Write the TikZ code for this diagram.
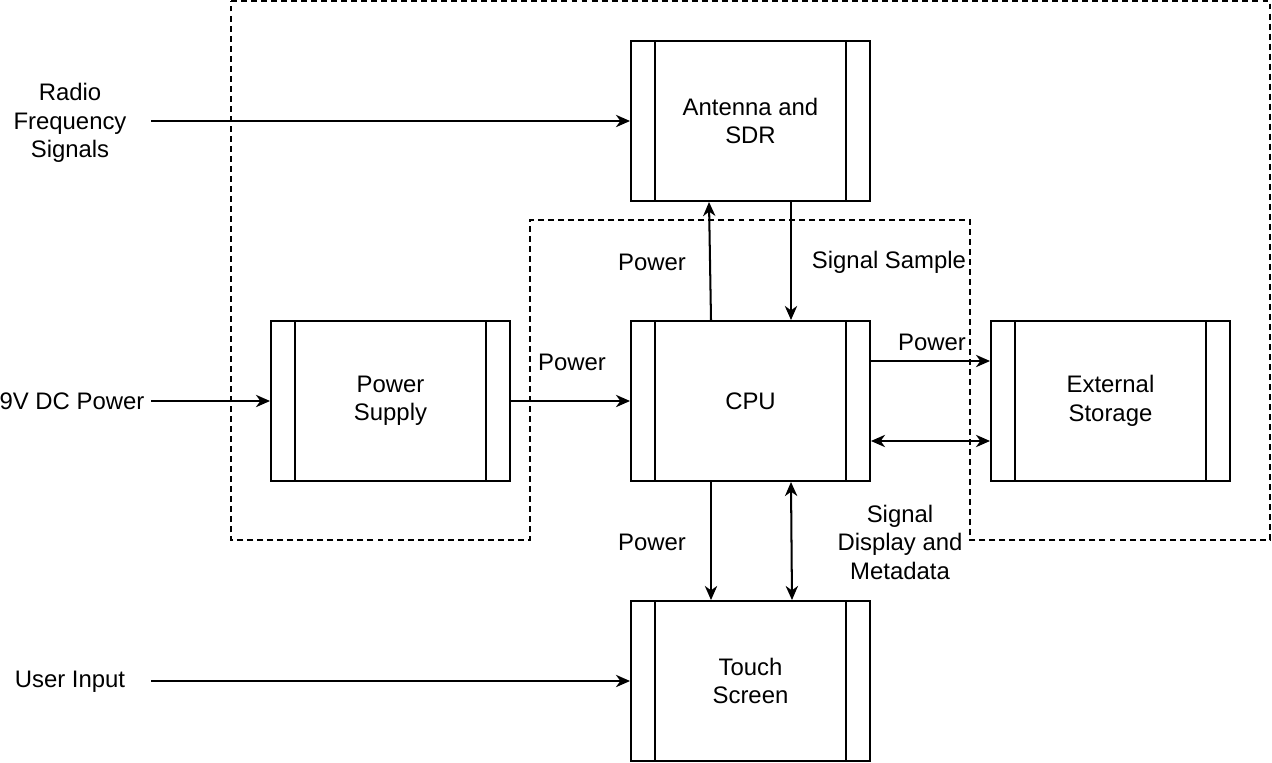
\documentclass[tikz,border=0pt]{standalone}
\usepackage{fontspec}
\setmainfont{Liberation Sans}
\usetikzlibrary{arrows.meta,positioning}

\begin{document}
\begin{tikzpicture}[x=0.02cm,y=-0.02cm,
	line width=1.15pt,
	>={Stealth[length=8pt,width=7pt,inset=2.5pt]},
	every node/.style={font=\fontsize{13.6}{16.2}\selectfont},
	block/.style={draw,rectangle,minimum width=4.78cm,minimum height=3.2cm,
		align=center,inner sep=0pt,
		path picture={\draw ([xshift=0.48cm]path picture bounding box.north west) -- ([xshift=0.48cm]path picture bounding box.south west);
			\draw ([xshift=-0.48cm]path picture bounding box.north east) -- ([xshift=-0.48cm]path picture bounding box.south east);}},
	lbl/.style={align=center,inner sep=0pt},
	border/.style={dashed,dash pattern=on 3.4pt off 2.3pt,line width=1pt}]
	\useasboundingbox (0,0) rectangle (1272,762);
	% dashed enclosure
	\draw[border] (231,1) -- (1270,1) -- (1270,540) -- (970,540) -- (970,220)
		-- (530,220) -- (530,540) -- (231,540) -- cycle;
	%% the blocks
	\node[block] (ant) at (750.5,121) {Antenna and\\SDR};
	\node[block] (psu) at (390.5,401) {Power\\Supply};
	\node[block] (cpu) at (750.5,401) {CPU};
	\node[block] (ext) at (1110.5,401) {External\\Storage};
	\node[block] (touch) at (750.5,681) {Touch\\Screen};
	%% the inputs
	\node[lbl] (rf) at (70,123) {Radio\\Frequency\\Signals};
	\node[lbl] (dc) at (72,401) {9V DC Power};
	\node[lbl] (user) at (70,682) {User Input};
	\coordinate (rfin) at (151,121);
	\coordinate (dcin) at (151,401);
	\coordinate (userin) at (151,681);
	\draw[->] (rfin) -- (ant.west);
	\draw[->] (dcin) -- (psu.west);
	\draw[->] (userin) -- (touch.west);
	%% the links
	\draw[->] (psu.east) -- (cpu.west);
	\draw[->] ([xshift=-0.79cm]cpu.north) -- ([xshift=-0.83cm]ant.south);
	\draw[->] ([xshift=0.81cm]ant.south) -- ([xshift=0.81cm]cpu.north);
	\draw[->] ([yshift=0.8cm]cpu.east) -- ([yshift=0.8cm]ext.west);
	\draw[<->] ([yshift=-0.8cm]cpu.east) -- ([yshift=-0.8cm]ext.west);
	\draw[->] ([xshift=-0.79cm]cpu.south) -- ([xshift=-0.79cm]touch.north);
	\draw[<->] ([xshift=0.81cm]cpu.south) -- ([xshift=0.83cm]touch.north);
	%% the labels
	\node[lbl] (pwant) at (652,262) {Power};
	\node[lbl] (sig) at (889,262) {Signal Sample};
	\node[lbl] (pwcpu) at (572,362) {Power};
	\node[lbl] (pwext) at (932,342) {Power};
	\node[lbl] (pwtouch) at (652,542) {Power};
	\node[lbl] (disp) at (900,542) {Signal\\Display and\\Metadata};
\end{tikzpicture}
\end{document}
